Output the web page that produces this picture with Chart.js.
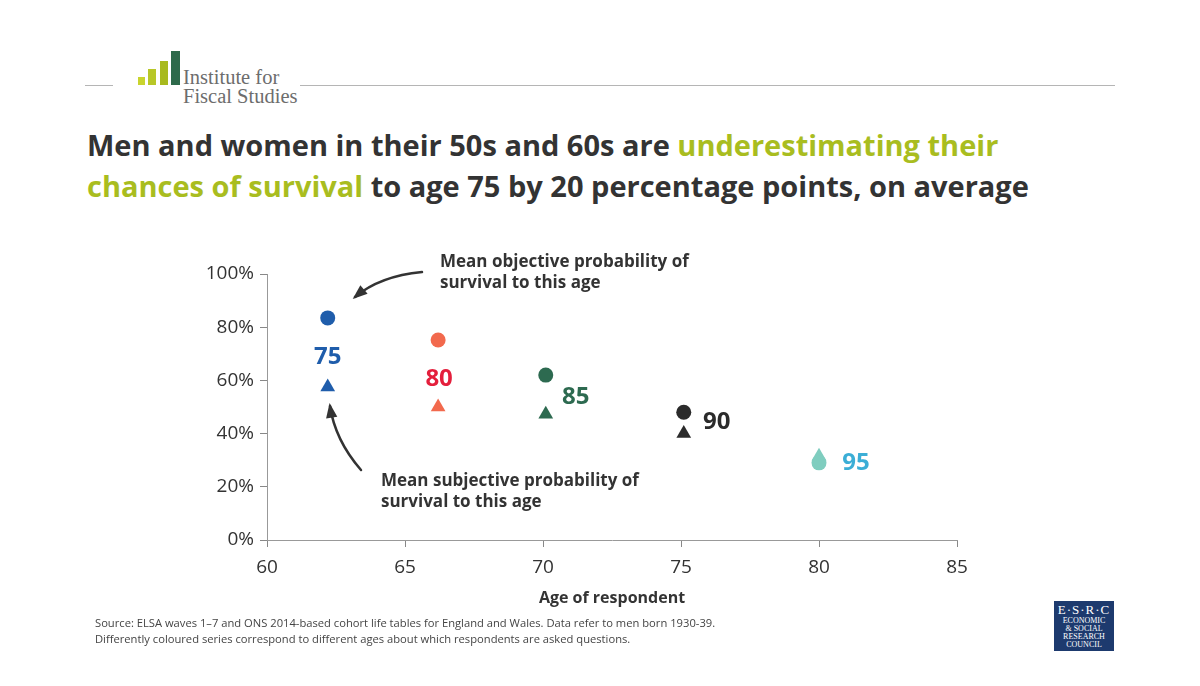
<!DOCTYPE html>
<html>
<head>
<meta charset="utf-8">
<script src="https://cdn.jsdelivr.net/npm/chart.js@4.4.0/dist/chart.umd.min.js"></script>
<style>
  body { margin: 0; background: #fff; font-family: "Open Sans", sans-serif; }
  #wrap { position: relative; width: 1200px; height: 686px; overflow: hidden; }
  #c { position: absolute; left: 0; top: 0; }
  .rule { position: absolute; top: 85px; height: 1px; background: #b5b5b5; }
  .bar { position: absolute; }
  .ifs { position: absolute; left: 183px; top: 68px; font-family: "Liberation Serif", serif; font-size: 20.5px; line-height: 19px; color: #6d6d6d; }
  h1 { position: absolute; left: 87px; top: 124px; margin: 0; font-size: 29px; line-height: 41px; font-weight: 700; color: #333; }
  h1 span { color: #a9bd1f; }
  .foot { position: absolute; left: 95px; top: 615px; font-size: 11.2px; line-height: 16px; color: #444; }
  .esrc { position: absolute; left: 1054px; top: 601px; width: 60px; height: 50px; background: #1d3a6e; color: #fff; font-family: "Liberation Serif", serif; text-align: center; }
</style>
</head>
<body>
<div id="wrap">
  <div class="rule" style="left:85px;width:28px"></div>
  <div class="rule" style="left:300px;width:815px"></div>
  <div class="bar" style="left:138px;top:77px;width:7px;height:8px;background:#c9d42e"></div>
  <div class="bar" style="left:148px;top:69px;width:8px;height:16px;background:#b8c728"></div>
  <div class="bar" style="left:160px;top:61px;width:8px;height:24px;background:#a8ba1e"></div>
  <div class="bar" style="left:171px;top:51px;width:9px;height:34px;background:#2e6a4b"></div>
  <div class="ifs">Institute for<br>Fiscal Studies</div>
  <h1>Men and women in their 50s and 60s are <span>underestimating their<br>chances of survival</span> to age 75 by 20 percentage points, on average</h1>
  <canvas id="c" width="1200" height="686"></canvas>
  <div class="foot">Source: ELSA waves 1–7 and ONS 2014-based cohort life tables for England and Wales. Data refer to men born 1930-39.<br>Differently coloured series correspond to different ages about which respondents are asked questions.</div>
  <div class="esrc">
    <div style="font-size:13px;line-height:14px;margin-top:2px;letter-spacing:1px">E·S·R·C</div>
    <div style="font-size:8px;line-height:8px">ECONOMIC<br>&amp; SOCIAL<br>RESEARCH<br>COUNCIL</div>
  </div>
</div>
<script>
// target ages asked about, respondent age, and the two mean probabilities (%)
const targetAges = ['75', '80', '85', '90', '95'];
const respondentAge = [62.2, 66.2, 70.1, 75.1, 80.0];
const objective = [83.5, 75.2, 62.0, 48.0, 29.0];
const subjective = [57.5, 50.0, 47.3, 40.0, 31.5];
const xTicks = [60, 65, 70, 75, 80, 85];
const yTicks = [0, 20, 40, 60, 80, 100];

const markColors = ['#1f5dab', '#f2694d', '#2d6a50', '#2b2b2b', '#7fcdbf'];
const labelColors = ['#1f5dab', '#e41f3c', '#2d6a50', '#2b2b2b', '#3baed6'];
// label offsets from the circle, px
const labelOff = [[0, 39], [1, 39], [30, 22], [33, 10], [37, 0]];

const ctx = document.getElementById('c').getContext('2d');

const extras = {
  id: 'extras',
  afterDatasetsDraw(chart) {
    const c = chart.ctx, xs = chart.scales.x, ys = chart.scales.y;
    c.save();
    c.textAlign = 'center';
    c.textBaseline = 'middle';
    c.font = 'bold 24px "Open Sans"';
    targetAges.forEach((t, i) => {
      c.fillStyle = labelColors[i];
      c.fillText(t, xs.getPixelForValue(respondentAge[i]) + labelOff[i][0], ys.getPixelForValue(objective[i]) + labelOff[i][1]);
    });

    // annotations
    c.fillStyle = '#333';
    c.textAlign = 'left';
    c.font = 'bold 17px "Open Sans"';
    c.fillText('Mean objective probability of', 440, 262);
    c.fillText('survival to this age', 440, 283);
    c.fillText('Mean subjective probability of', 381, 481);
    c.fillText('survival to this age', 381, 502);

    c.strokeStyle = '#333';
    c.fillStyle = '#333';
    c.lineWidth = 2.5;
    c.lineCap = 'round';
    const arrow = (x0, y0, cx, cy, x1, y1) => {
      c.beginPath();
      c.moveTo(x0, y0);
      c.quadraticCurveTo(cx, cy, x1, y1);
      c.stroke();
      const a = Math.atan2(y1 - cy, x1 - cx);
      const L = 13, w = 0.45;
      c.beginPath();
      c.moveTo(x1 + 3 * Math.cos(a), y1 + 3 * Math.sin(a));
      c.lineTo(x1 - L * Math.cos(a - w), y1 - L * Math.sin(a - w));
      c.lineTo(x1 - L * Math.cos(a + w), y1 - L * Math.sin(a + w));
      c.closePath();
      c.fill();
    };
    arrow(422, 272, 380, 276, 355, 297);
    arrow(361, 470, 335, 440, 330, 406);
    c.restore();
  }
};

new Chart(ctx, {
  type: 'scatter',
  data: {
    datasets: [{
      label: 'Objective',
      data: respondentAge.map((x, i) => ({ x: x, y: objective[i] })),
      pointStyle: 'circle',
      pointRadius: 7.5,
      pointHoverRadius: 7.5,
      backgroundColor: markColors,
      borderColor: markColors,
      borderWidth: 0
    }, {
      label: 'Subjective',
      data: respondentAge.map((x, i) => ({ x: x, y: subjective[i] })),
      pointStyle: 'triangle',
      pointRadius: 8.5,
      pointHoverRadius: 8.5,
      backgroundColor: markColors,
      borderColor: markColors,
      borderWidth: 0
    }]
  },
  plugins: [extras],
  options: {
    responsive: false,
    animation: false,
    layout: { padding: { left: 190, right: 243, top: 274, bottom: 74 } },
    plugins: { legend: { display: false }, tooltip: { enabled: false } },
    scales: {
      x: {
        min: 60, max: 85,
        afterBuildTicks: s => { s.ticks = xTicks.map(v => ({ value: v })); },
        afterFit: s => { s.height = 72; },
        grid: { display: true, drawOnChartArea: false, drawTicks: true, tickLength: 7, color: '#888', tickColor: '#888' },
        border: { color: '#999' },
        ticks: { color: '#333', font: { family: 'Open Sans', size: 19 }, padding: 9, maxRotation: 0 },
        title: { display: true, text: 'Age of respondent', color: '#333', font: { family: 'Open Sans', size: 16, weight: 'bold' }, padding: { top: 4 } }
      },
      y: {
        min: 0, max: 100,
        afterBuildTicks: s => { s.ticks = yTicks.map(v => ({ value: v })); },
        afterFit: s => { s.width = 77; },
        grid: { display: true, drawOnChartArea: false, drawTicks: true, tickLength: 7, color: '#888', tickColor: '#888' },
        border: { color: '#999' },
        ticks: { color: '#333', font: { family: 'Open Sans', size: 19 }, padding: 6, callback: v => v + '%' }
      }
    }
  }
});
</script>
</body>
</html>
